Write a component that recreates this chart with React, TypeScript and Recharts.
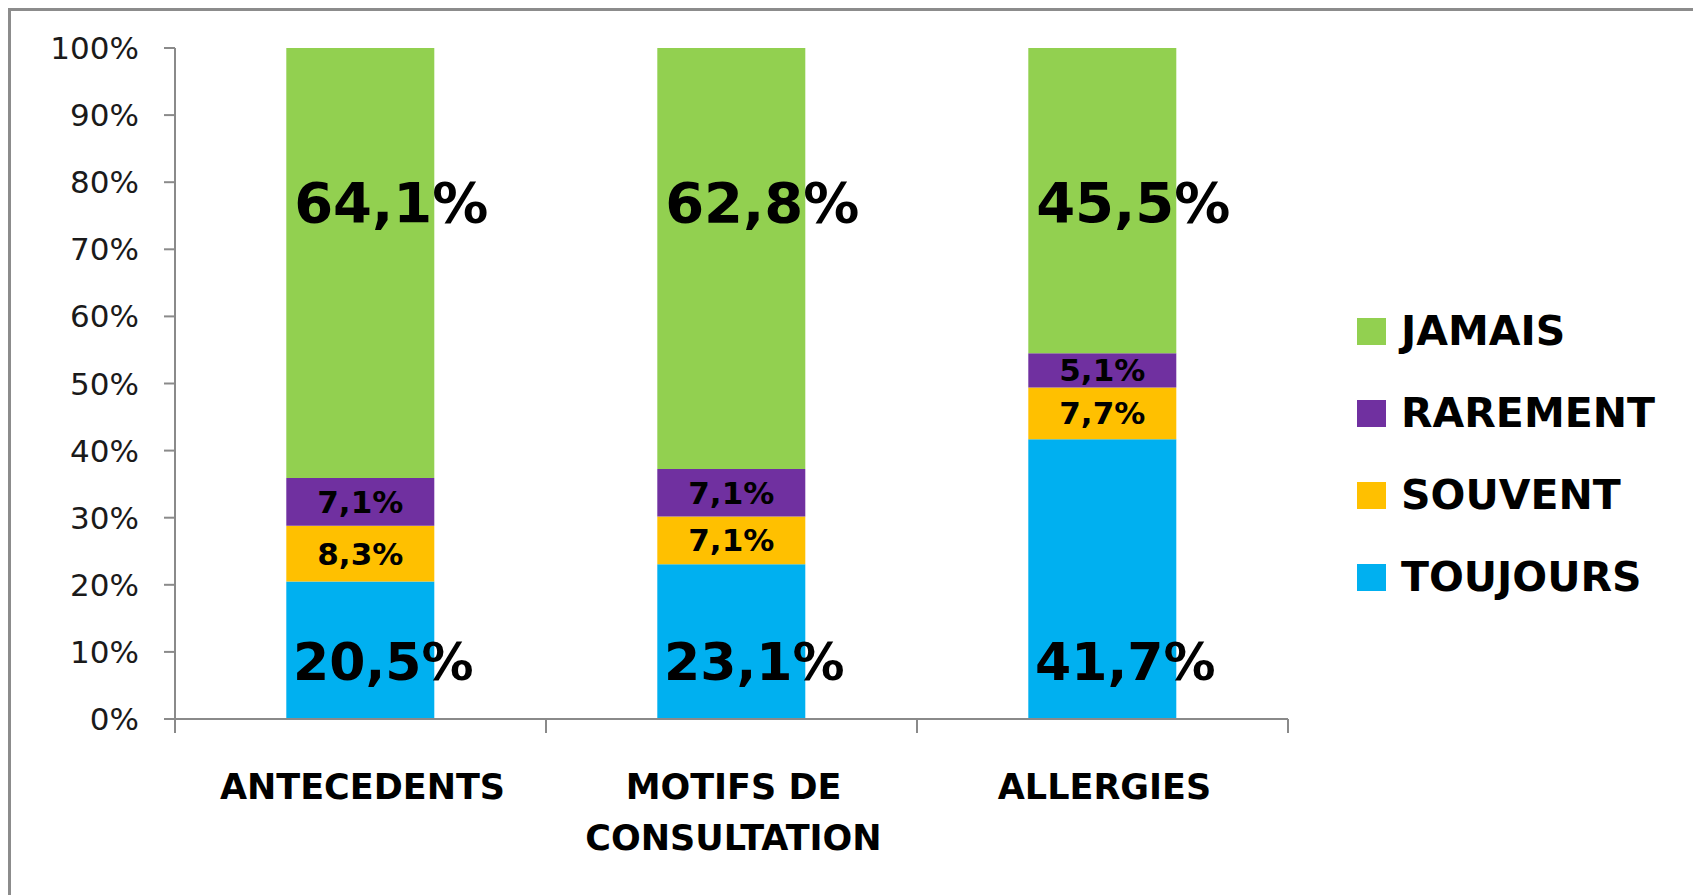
import React from 'react';
import { BarChart, Bar, XAxis, YAxis, Legend, LabelList } from 'recharts';

const categories = ['ANTECEDENTS', 'MOTIFS DE CONSULTATION', 'ALLERGIES'];
const toujours = [20.5, 23.1, 41.7];
const souvent = [8.3, 7.1, 7.7];
const rarement = [7.1, 7.1, 5.1];
const jamais = [64.1, 62.8, 45.5];
const yTicks = [0, 0.1, 0.2, 0.3, 0.4, 0.5, 0.6, 0.7, 0.8, 0.9, 1];

const series = [
  { key: 'toujours', name: 'TOUJOURS', color: '#00B0F0', values: toujours },
  { key: 'souvent', name: 'SOUVENT', color: '#FFC000', values: souvent },
  { key: 'rarement', name: 'RAREMENT', color: '#7030A0', values: rarement },
  { key: 'jamais', name: 'JAMAIS', color: '#92D050', values: jamais },
];

const data = categories.map((category, i) => {
  const row: Record<string, string | number> = { category };
  series.forEach((s) => {
    row[s.key] = s.values[i];
  });
  return row;
});

const FONT = '"DejaVu Sans", sans-serif';
const AXIS = '#8a8a8a';
const X_TICK_MARGIN = 58;

const fmt = (v: unknown) => Number(v).toFixed(1).replace('.', ',') + '%';

const wrapWords = (label: string, maxChars: number) => {
  const lines: string[] = [];
  let cur = '';
  label.split(' ').forEach((w) => {
    const next = cur ? cur + ' ' + w : w;
    if (cur && next.length > maxChars) {
      lines.push(cur);
      cur = w;
    } else {
      cur = next;
    }
  });
  if (cur) lines.push(cur);
  return lines;
};

const getBox = (props: any) => {
  const vb = props.viewBox || {};
  return {
    x: Number(props.x ?? vb.x),
    y: Number(props.y ?? vb.y),
    width: Number(props.width ?? vb.width),
    height: Number(props.height ?? vb.height),
  };
};

const TopBigLabel = (props: any) => {
  const { x, y, width } = getBox(props);
  return (
    <text x={x + width / 2 + 31} y={y + 174} textAnchor="middle" fontFamily={FONT}
      fontSize={56} fontWeight="bold" fill="#000">
      {fmt(props.value)}
    </text>
  );
};

const BottomBigLabel = (props: any) => {
  const { x, y, width, height } = getBox(props);
  return (
    <text x={x + width / 2 + 23} y={y + height - 39} textAnchor="middle" fontFamily={FONT}
      fontSize={52} fontWeight="bold" fill="#000">
      {fmt(props.value)}
    </text>
  );
};

const XTick = (props: any) => {
  const { x, y, payload, index, visibleTicksCount } = props;
  const half = Number(payload?.offset ?? 0);
  const axisY = y - X_TICK_MARGIN;
  const lines = wrapWords(String(payload.value), 13);
  return (
    <g>
      <line x1={x - half} x2={x - half} y1={axisY} y2={axisY + 14} stroke={AXIS} strokeWidth={2} />
      {index === visibleTicksCount - 1 && (
        <line x1={x + half} x2={x + half} y1={axisY} y2={axisY + 14} stroke={AXIS} strokeWidth={2} />
      )}
      <text x={x + 2} y={y + 22} textAnchor="middle" fontSize={35} fontWeight="bold"
        fontFamily={FONT} fill="#000">
        {lines.map((l, i) => (
          <tspan key={i} x={x + 2} dy={i === 0 ? 0 : 51}>{l}</tspan>
        ))}
      </text>
    </g>
  );
};

const renderLegend = () => (
  <div style={{ fontFamily: FONT }}>
    {[...series].reverse().map((s) => (
      <div key={s.key} style={{ display: 'flex', alignItems: 'center', height: 81.75 }}>
        <div style={{ width: 29, height: 27, background: s.color, marginRight: 15, flex: 'none' }} />
        <span style={{ fontSize: 41, fontWeight: 'bold', lineHeight: 1, color: '#000', whiteSpace: 'nowrap' }}>
          {s.name}
        </span>
      </div>
    ))}
  </div>
);

export default function App() {
  return (
    <div
      style={{
        position: 'relative',
        width: 1691,
        height: 890,
        boxSizing: 'border-box',
        border: '3px solid #8c8c8c',
        borderBottom: 'none',
        background: '#fff',
      }}
    >
      <style>{'html,body{overflow:hidden}'}</style>
      <BarChart
        width={1685}
        height={884}
        data={data}
        stackOffset="expand"
        barCategoryGap="30%"
        margin={{ top: 37, right: 408, bottom: 0, left: 64 }}
        style={{ fontFamily: FONT }}
      >
        <XAxis
          dataKey="category"
          interval={0}
          height={176}
          axisLine={{ stroke: AXIS, strokeWidth: 2 }}
          tickLine={false}
          tickSize={0}
          tickMargin={X_TICK_MARGIN}
          tick={<XTick />}
        />
        <YAxis
          type="number"
          domain={[0, 1]}
          ticks={yTicks}
          interval={0}
          width={100}
          tickFormatter={(v: number) => `${Math.round(v * 100)}%`}
          axisLine={{ stroke: AXIS, strokeWidth: 2 }}
          tickLine={{ stroke: AXIS, strokeWidth: 2 }}
          tickSize={11}
          tickMargin={25}
          tick={{ fill: '#1a1a1a', fontSize: 31, fontFamily: FONT }}
        />
        <Legend
          layout="vertical"
          align="center"
          verticalAlign="middle"
          wrapperStyle={{ left: 1346, top: 280, width: 330, height: 327 }}
          content={renderLegend}
        />
        <Bar dataKey="toujours" name="TOUJOURS" stackId="a" fill="#00B0F0" isAnimationActive={false}>
          <LabelList dataKey="toujours" content={<BottomBigLabel />} />
        </Bar>
        <Bar dataKey="souvent" name="SOUVENT" stackId="a" fill="#FFC000" isAnimationActive={false}>
          <LabelList dataKey="souvent" position="center" formatter={fmt} fill="#000"
            fontSize={31} fontWeight="bold" fontFamily={FONT} />
        </Bar>
        <Bar dataKey="rarement" name="RAREMENT" stackId="a" fill="#7030A0" isAnimationActive={false}>
          <LabelList dataKey="rarement" position="center" formatter={fmt} fill="#000"
            fontSize={31} fontWeight="bold" fontFamily={FONT} />
        </Bar>
        <Bar dataKey="jamais" name="JAMAIS" stackId="a" fill="#92D050" isAnimationActive={false}>
          <LabelList dataKey="jamais" content={<TopBigLabel />} />
        </Bar>
      </BarChart>
    </div>
  );
}
